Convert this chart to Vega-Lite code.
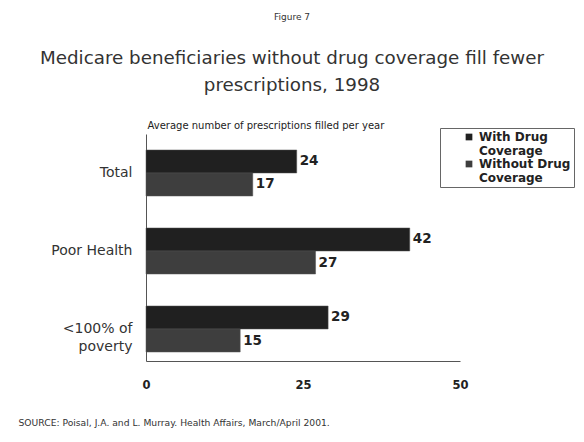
{
  "$schema": "https://vega.github.io/schema/vega-lite/v6.json",
  "width": 314,
  "height": 227,
  "autosize": {"type": "none"},
  "padding": {"left": 146, "top": 134, "right": 124, "bottom": 81},
  "background": "white",
  "config": {
    "font": "DejaVu Sans",
    "view": {"stroke": null},
    "axis": {"domainColor": "#555555", "grid": false}
  },
  "title": {
    "text": "Figure 7",
    "subtitle": ["Medicare beneficiaries without drug coverage fill fewer", "prescriptions, 1998"],
    "anchor": "middle",
    "frame": "group",
    "dx": -11,
    "offset": 26,
    "fontSize": 9,
    "fontWeight": "normal",
    "color": "#333333",
    "subtitleFontSize": 18.3,
    "subtitleColor": "#333333",
    "subtitleLineHeight": 27,
    "subtitlePadding": 28
  },
  "data": {
    "values": [
      {"group": "Total", "series": "With Drug Coverage", "value": 24},
      {"group": "Total", "series": "Without Drug Coverage", "value": 17},
      {"group": "Poor Health", "series": "With Drug Coverage", "value": 42},
      {"group": "Poor Health", "series": "Without Drug Coverage", "value": 27},
      {"group": "<100% of poverty", "series": "With Drug Coverage", "value": 29},
      {"group": "<100% of poverty", "series": "Without Drug Coverage", "value": 15}
    ]
  },
  "encoding": {
    "y": {
      "field": "group",
      "type": "nominal",
      "sort": ["Total", "Poor Health", "<100% of poverty"],
      "scale": {"paddingInner": 0.41, "paddingOuter": 0.16, "align": 0.64},
      "axis": {
        "title": null,
        "ticks": false,
        "labelPadding": 14,
        "labelFontSize": 14,
        "labelColor": "#333333",
        "labelLineHeight": 18,
        "labelExpr": "datum.value == '<100% of poverty' ? ['<100% of', 'poverty  '] : datum.value"
      }
    },
    "yOffset": {
      "field": "series",
      "type": "nominal",
      "sort": ["With Drug Coverage", "Without Drug Coverage"]
    }
  },
  "layer": [
    {
      "mark": {"type": "bar", "stroke": "#555555", "strokeWidth": 0.5},
      "encoding": {
        "x": {
          "field": "value",
          "type": "quantitative",
          "scale": {"domain": [0, 50]},
          "axis": {
            "orient": "bottom",
            "values": [0, 25, 50],
            "ticks": false,
            "labelFlush": false,
            "labelPadding": 18,
            "labelFontSize": 11.5,
            "labelFontWeight": "bold",
            "labelColor": "#222222",
            "title": "SOURCE: Poisal, J.A. and L. Murray. Health Affairs, March/April 2001.",
            "titleFontSize": 9.2,
            "titleFontWeight": "normal",
            "titleColor": "#333333",
            "titleAnchor": "start",
            "titleAlign": "left",
            "titleBaseline": "alphabetic",
            "titleX": -128,
            "titleY": 64
          }
        },
        "color": {
          "field": "series",
          "type": "nominal",
          "sort": ["With Drug Coverage", "Without Drug Coverage"],
          "scale": {"range": ["#202020", "#3e3e3e"]},
          "legend": {
            "title": null,
            "orient": "none",
            "legendX": 294,
            "legendY": -6,
            "direction": "vertical",
            "strokeColor": "#666666",
            "padding": 3,
            "symbolOffset": 20,
            "symbolType": "square",
            "symbolSize": 45,
            "symbolStrokeWidth": 0,
            "labelFontSize": 12,
            "labelFontWeight": "bold",
            "labelColor": "#222222",
            "labelLineHeight": 12,
            "labelOffset": 4,
            "rowPadding": 1,
            "labelExpr": "datum.label == 'With Drug Coverage' ? ['With Drug', ' Coverage'] : ['Without Drug   ', ' Coverage']"
          }
        }
      }
    },
    {
      "mark": {"type": "text", "align": "left", "dx": 3, "fontSize": 13.5, "fontWeight": "bold", "color": "#222222"},
      "encoding": {
        "x": {
          "field": "value",
          "type": "quantitative",
          "axis": {
            "orient": "top",
            "labels": false,
            "ticks": false,
            "domain": false,
            "title": "Average number of prescriptions filled per year",
            "titleFontSize": 10,
            "titleFontWeight": "normal",
            "titleColor": "#222222",
            "titleAnchor": "start",
            "titleAlign": "left",
            "titleBaseline": "alphabetic",
            "titleX": 1,
            "titleY": -6
          }
        },
        "text": {"field": "value", "type": "quantitative"}
      }
    }
  ],
  "resolve": {"axis": {"x": "independent"}}
}
